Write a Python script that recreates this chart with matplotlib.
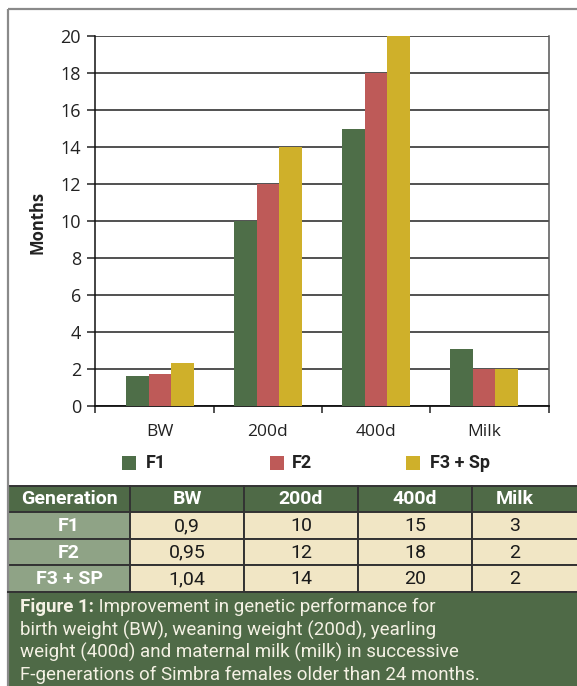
import matplotlib
matplotlib.use("Agg")
import matplotlib.pyplot as plt
from matplotlib.patches import Rectangle
import numpy as np

# ---- data ----
categories = ["BW", "200d", "400d", "Milk"]
series_names = ["F1", "F2", "F3 + Sp"]
f1_values = [1.6, 10, 15, 3.1]
f2_values = [1.75, 12, 18, 2]
f3_values = [2.35, 14, 20, 2]
y_ticks = [0, 2, 4, 6, 8, 10, 12, 14, 16, 18, 20]

table_header = ["Generation", "BW", "200d", "400d", "Milk"]
table_rows = ["F1", "F2", "F3 + SP"]
table_f1 = ["0,9", "10", "15", "3"]
table_f2 = ["0,95", "12", "18", "2"]
table_f3 = ["1,04", "14", "20", "2"]

caption_bold = "Figure 1:"
caption_lines = [
    " Improvement in genetic performance for",
    "birth weight (BW), weaning weight (200d), yearling",
    "weight (400d) and maternal milk (milk) in successive",
    "F-generations of Simbra females older than 24 months.",
]

# ---- style ----
C_F1 = "#4E6E48"
C_F2 = "#BE5A58"
C_F3 = "#CFB02A"
DARK_GREEN = "#4F6A47"
GEN_BG = "#8FA386"
CELL_BG = "#F1E6C5"
CAP_TXT = "#F4F1E4"
NARROW = ["Roboto", "DejaVu Sans"]
CHART_FONT = ["Open Sans", "DejaVu Sans"]

W, H = 577, 686
fig = plt.figure(figsize=(W / 100, H / 100), dpi=100)
fig.patch.set_facecolor("white")

ov = fig.add_axes([0, 0, 1, 1])
ov.set_xlim(0, W)
ov.set_ylim(H, 0)
ov.axis("off")

ov.plot([8, 8], [9, H], color="#8a8a8a", lw=1.6, solid_capstyle="butt")
ov.plot([8, W], [9, 9], color="#8a8a8a", lw=1.6, solid_capstyle="butt")

# ---- chart ----
ax = fig.add_axes([95 / W, 1 - 406 / H, 454 / W, 370 / H])
x = np.arange(len(categories))
bw = 0.21
for i, (vals, col) in enumerate(zip([f1_values, f2_values, f3_values], [C_F1, C_F2, C_F3])):
    ax.bar(x + (i - 1) * bw, vals, width=bw, color=col, zorder=3, linewidth=0)

ax.set_xlim(-0.6, 3.6)
ax.set_ylim(0, 20)
ax.set_yticks(y_ticks)
ax.set_yticklabels([str(v) for v in y_ticks], fontsize=13, family=CHART_FONT, color="#222222")
ax.yaxis.grid(True, color="#222222", lw=1.1, zorder=1)
ax.set_axisbelow(True)
ax.tick_params(axis="y", direction="out", length=6, width=1.1, pad=4, colors="#222222")

ax.set_xticks([-0.6, 0.5, 1.5, 2.5, 3.6])
ax.set_xticklabels([])
ax.tick_params(axis="x", direction="out", length=5, width=1.1, colors="#222222")
for xi, lab in zip(x, categories):
    ax.text(xi, -1.4, lab, ha="center", va="center", fontsize=12.5, family=CHART_FONT, color="#222222")

ax.spines["top"].set_visible(False)
ax.spines["left"].set_color("#111111")
ax.spines["left"].set_linewidth(1.1)
ax.spines["bottom"].set_color("#111111")
ax.spines["bottom"].set_linewidth(1.3)
ax.spines["right"].set_color("#555555")
ax.spines["right"].set_linewidth(1.1)

ov.text(38, 222, "Months", rotation=90, ha="center", va="center", fontsize=12,
        fontweight="bold", family=CHART_FONT, color="#222222")

# legend
leg_sq_x = [122, 270, 406]
leg_tx_x = [146, 292, 430]
for sx, tx, name, col in zip(leg_sq_x, leg_tx_x, series_names, [C_F1, C_F2, C_F3]):
    ov.add_patch(Rectangle((sx, 456), 14, 14, color=col, lw=0))
    ov.text(tx, 463.5, name, ha="left", va="center", fontsize=13, fontweight="bold",
            family=NARROW, color="#222222")

# ---- table ----
col_edges = [8, 130, 244, 358, 472, W + 2]
row_edges = [486, 512, 539, 565, 592]
rows_data = [table_f1, table_f2, table_f3]

for c in range(5):
    x0, x1 = col_edges[c], col_edges[c + 1]
    ov.add_patch(Rectangle((x0, row_edges[0]), x1 - x0, row_edges[1] - row_edges[0],
                           facecolor=DARK_GREEN, edgecolor="#333333", lw=1.4))
    cx = (x0 + x1) / 2 if c < 4 else 515
    ov.text(cx, (row_edges[0] + row_edges[1]) / 2 + 0.5, table_header[c], ha="center", va="center",
            fontsize=14, fontweight="bold", family=NARROW, color="white")
for r in range(3):
    y0, y1 = row_edges[r + 1], row_edges[r + 2]
    for c in range(5):
        x0, x1 = col_edges[c], col_edges[c + 1]
        fc = GEN_BG if c == 0 else CELL_BG
        ov.add_patch(Rectangle((x0, y0), x1 - x0, y1 - y0, facecolor=fc, edgecolor="#333333", lw=1.4))
        if c == 0:
            ov.text((x0 + x1) / 2, (y0 + y1) / 2 + 0.5, table_rows[r], ha="center", va="center",
                    fontsize=14, fontweight="bold", family=NARROW, color="white")
        else:
            cx = (x0 + x1) / 2 if c < 4 else 515
            ov.text(cx, (y0 + y1) / 2 + 0.5, rows_data[r][c - 1], ha="center", va="center",
                    fontsize=14, family=NARROW, color="#1a1a1a")

# caption
ov.add_patch(Rectangle((8, 592), W - 8, H - 592, facecolor=DARK_GREEN, edgecolor="none"))
ov.plot([8, W], [592, 592], color="#333333", lw=1.4)
line_y = [607, 630, 652, 675]
cap_fs = 13.5
t = ov.text(20, line_y[0], caption_bold, ha="left", va="center", fontsize=cap_fs, fontweight="bold",
            family=NARROW, color=CAP_TXT)
fig.canvas.draw()
bb = t.get_window_extent()
inv = ov.transData.inverted()
x_end = inv.transform((bb.x1, bb.y0))[0]
ov.text(x_end, line_y[0], caption_lines[0], ha="left", va="center", fontsize=cap_fs,
        family=NARROW, color=CAP_TXT)
for ly, line in zip(line_y[1:], caption_lines[1:]):
    ov.text(20, ly, line, ha="left", va="center", fontsize=cap_fs, family=NARROW, color=CAP_TXT)

fig.savefig("out.png", dpi=100)
